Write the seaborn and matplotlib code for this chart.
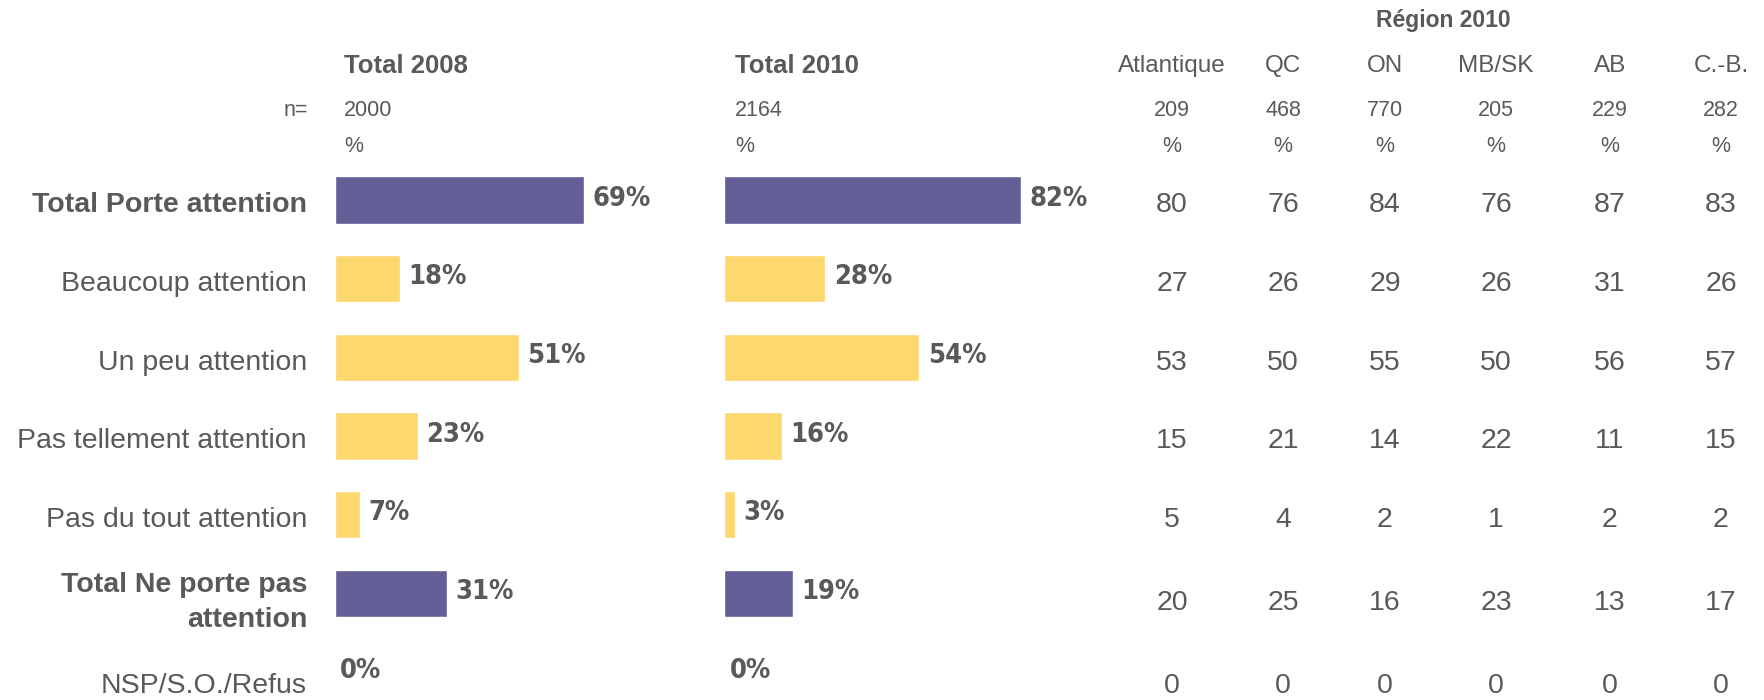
import matplotlib
matplotlib.use("Agg")
import matplotlib.pyplot as plt
import matplotlib.transforms as mtransforms
from matplotlib import font_manager
import pandas as pd
import seaborn as sns

# Survey data
categories = ["Total Porte attention", "Beaucoup attention", "Un peu attention",
              "Pas tellement attention", "Pas du tout attention",
              "Total Ne porte pas\nattention", "NSP/S.O./Refus"]
total_rows = ["Total Porte attention", "Total Ne porte pas\nattention"]
total_2008 = [69, 18, 51, 23, 7, 31, 0]
total_2010 = [82, 28, 54, 16, 3, 19, 0]
n_2008 = 2000
n_2010 = 2164

regions = ["Atlantique", "QC", "ON", "MB/SK", "AB", "C.-B."]
region_n = [209, 468, 770, 205, 229, 282]
atlantique = [80, 27, 53, 15, 5, 20, 0]
qc = [76, 26, 50, 21, 4, 25, 0]
on = [84, 29, 55, 14, 2, 16, 0]
mb_sk = [76, 26, 50, 22, 1, 23, 0]
ab = [87, 31, 56, 11, 2, 13, 0]
cb = [83, 26, 57, 15, 2, 17, 0]
region_values = [atlantique, qc, on, mb_sk, ab, cb]

PURPLE = "#635e96"
YELLOW = "#fdd86f"
GREY = "#595959"

sns.set_style("white")
plt.rcParams["font.family"] = ["Liberation Sans", "DejaVu Sans"]
plt.rcParams["text.color"] = GREY

# look for a narrow bold face for the bar labels
narrow = None
for f in font_manager.fontManager.ttflist:
    if ("Narrow" in f.name or "Condensed" in f.name or "condensed" in str(f.stretch)) \
            and f.weight in (700, "bold"):
        narrow = f.fname
        break
if narrow:
    label_font = dict(fontproperties=font_manager.FontProperties(fname=narrow, size=19.5),
                      color=GREY)
else:
    label_font = dict(family="Liberation Sans", weight="bold", size=17, color=GREY)

W, H = 1765, 700
fig = plt.figure(figsize=(W / 100, H / 100), dpi=100)

# bar axes geometry (pixels)
row_h = 78.7
top_px = 200 - row_h / 2
ylim_bottom = 6.45
ax_h = (ylim_bottom + 0.5) * row_h
scale_px = 362  # pixels for 100%


def px_axes(x0):
    return fig.add_axes([x0 / W, 1 - (top_px + ax_h) / H, scale_px / W, ax_h / H])


palette = {c: (PURPLE if c in total_rows else YELLOW) for c in categories}

axes = []
for x0, vals in [(334.5, total_2008), (724, total_2010)]:
    ax = px_axes(x0)
    df = pd.DataFrame({"cat": categories, "val": vals})
    sns.barplot(data=df, x="val", y="cat", hue="cat", palette=palette, order=categories,
                legend=False, width=0.6, ax=ax, saturation=1)
    ax.set_xlim(0, 100)
    ax.set_ylim(ylim_bottom, -0.5)
    ax.axis("off")
    for i, v in enumerate(vals):
        ax.annotate(f"{v}%", (v, i), xytext=(6 if v else 4, 1), textcoords="offset points",
                    va="center", ha="left", **label_font)
    axes.append(ax)

ax1 = axes[0]
blend = mtransforms.blended_transform_factory(fig.transFigure, ax1.transData)


def row_y(i):
    # table rows sit a little below the bars, lower rows are taller
    return i + 0.065 + max(0, i - 4) * 0.053


# category labels
for i, c in enumerate(categories):
    fig.text(307 / W, row_y(i), c, transform=blend,
             ha="right", va="center", fontsize=20.5,
             fontweight="bold" if c in total_rows else "normal", linespacing=1.45)

# region table values
col_x = [1172, 1283, 1385, 1496, 1610, 1721]
for x, vals in zip(col_x, region_values):
    for i, v in enumerate(vals):
        fig.text(x / W, row_y(i), str(v), transform=blend, ha="center", va="center",
                 fontsize=20.5)

# headers
def fy(y):
    return 1 - y / H


fig.text(1443 / W, fy(20), "Région 2010", ha="center", va="center", fontsize=16.5,
         fontweight="bold")
fig.text(344 / W, fy(66), "Total 2008", ha="left", va="center", fontsize=18.5,
         fontweight="bold")
fig.text(735 / W, fy(66), "Total 2010", ha="left", va="center", fontsize=18.5,
         fontweight="bold")
fig.text(308 / W, fy(111), "n=", ha="right", va="center", fontsize=15.5)
fig.text(344 / W, fy(111), str(n_2008), ha="left", va="center", fontsize=15.5)
fig.text(735 / W, fy(111), str(n_2010), ha="left", va="center", fontsize=15.5)
fig.text(344 / W, fy(147), "%", ha="left", va="center", fontsize=15.5)
fig.text(735 / W, fy(147), "%", ha="left", va="center", fontsize=15.5)
for x, r, n in zip(col_x, regions, region_n):
    fig.text(x / W, fy(66), r, ha="center", va="center", fontsize=17.5)
    fig.text(x / W, fy(111), str(n), ha="center", va="center", fontsize=15.5)
    fig.text(x / W, fy(147), "%", ha="center", va="center", fontsize=15.5)

fig.savefig("out.png", dpi=100)
